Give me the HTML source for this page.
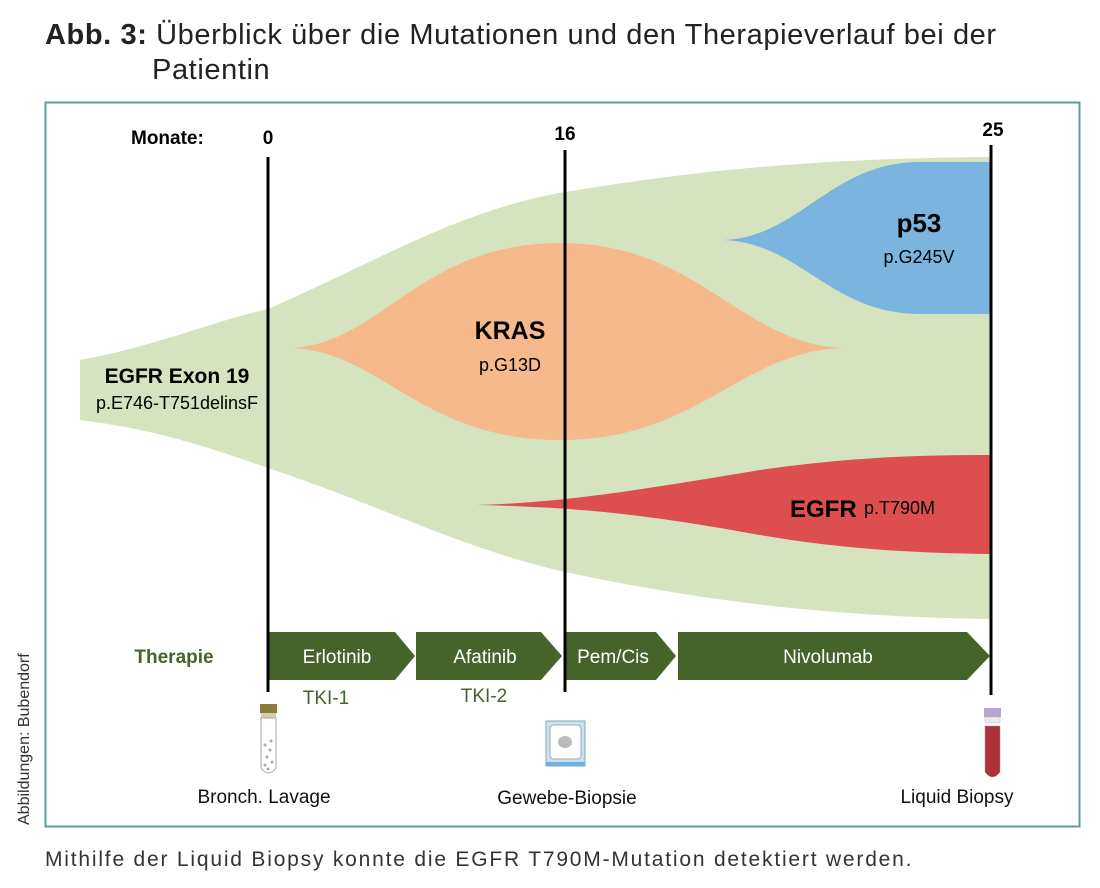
<!DOCTYPE html>
<html><head><meta charset="utf-8"><style>
body{margin:0;width:1100px;height:888px;background:#fff;overflow:hidden;font-family:"Liberation Sans",sans-serif}
</style></head><body>
<svg width="1100" height="888" xmlns="http://www.w3.org/2000/svg" style="position:absolute;left:0;top:0">
<text x="45" y="44" font-family="Liberation Sans, sans-serif" font-size="29" letter-spacing="0.6" fill="#222"><tspan font-weight="bold">Abb. 3:</tspan> Überblick über die Mutationen und den Therapieverlauf bei der</text>
<text x="152" y="79" font-family="Liberation Sans, sans-serif" font-size="29" letter-spacing="0.6" fill="#222">Patientin</text>
<rect x="45.5" y="102.5" width="1034" height="724" fill="none" stroke="#5a9e9a" stroke-width="2"/>
<text transform="translate(29,825) rotate(-90)" font-size="16" fill="#333">Abbildungen: Bubendorf</text>
<text x="45" y="866" font-size="21" letter-spacing="1.8" fill="#333">Mithilfe der Liquid Biopsy konnte die EGFR T790M-Mutation detektiert werden.</text>

<path d="M80,360 C160,345 210,322 268,309 C380,260 460,210 565,192 C720,166 850,158 990,157 L990,619 C850,617 720,605 565,572 C460,548 380,505 268,468 C210,448 160,430 80,420 Z" fill="#d5e4bf"/>
<path d="M290,348 C380,345 420,243 560,243 C700,243 740,345 845,348 C740,350 700,440 560,440 C420,440 380,350 290,348 Z" fill="#f5b98c"/>
<path d="M722,240 C800,238 830,162 920,162 L990,162 L990,314 L920,314 C830,314 800,242 722,240 Z" fill="#7cb4e0"/>
<path d="M476,505 C560,503 640,490 760,470 C850,457 920,455 990,455 L990,554 C900,553 830,547 760,535 C650,515 580,507 476,505 Z" fill="#dd4e4e"/>

<g font-family="Liberation Sans, sans-serif" fill="#000">
<text x="131" y="144" font-size="19" font-weight="bold">Monate:</text>
<text x="268" y="144" font-size="19" font-weight="bold" text-anchor="middle">0</text>
<text x="565" y="140" font-size="19" font-weight="bold" text-anchor="middle">16</text>
<text x="993" y="136" font-size="19" font-weight="bold" text-anchor="middle">25</text>
<text x="177" y="383" font-size="21" font-weight="bold" text-anchor="middle">EGFR Exon 19</text>
<text x="177" y="409" font-size="18" text-anchor="middle">p.E746-T751delinsF</text>
<text x="510" y="339" font-size="25" font-weight="bold" text-anchor="middle">KRAS</text>
<text x="510" y="371" font-size="18" text-anchor="middle">p.G13D</text>
<text x="919" y="232" font-size="26" font-weight="bold" text-anchor="middle">p53</text>
<text x="919" y="263" font-size="18" text-anchor="middle">p.G245V</text>
<text x="790" y="517" font-size="24" font-weight="bold">EGFR</text>
<text x="864" y="514" font-size="18">p.T790M</text>
</g>

<g fill="#46632a">
<polygon points="268,632 395,632 415,656 395,680 268,680"/>
<polygon points="416,632 541,632 562,656 541,680 416,680"/>
<polygon points="566,632 656,632 676,656 656,680 566,680"/>
<polygon points="678,632 967,632 990,656 967,680 678,680"/>
</g>
<g font-family="Liberation Sans, sans-serif" font-size="19" fill="#fff" text-anchor="middle">
<text x="337" y="663">Erlotinib</text>
<text x="485" y="663">Afatinib</text>
<text x="613" y="663">Pem/Cis</text>
<text x="828" y="663">Nivolumab</text>
</g>
<g font-family="Liberation Sans, sans-serif" font-size="19" fill="#46632a" text-anchor="middle">
<text x="174" y="663" font-weight="bold">Therapie</text>
<text x="326" y="704">TKI-1</text>
<text x="484" y="702">TKI-2</text>
</g>

<line x1="268" y1="157" x2="268" y2="692" stroke="#000" stroke-width="3"/>
<line x1="565" y1="150" x2="565" y2="692" stroke="#000" stroke-width="3"/>
<line x1="991" y1="145" x2="991" y2="695" stroke="#000" stroke-width="3"/>

<rect x="260" y="704" width="17" height="9" fill="#8a7a3c"/>
<rect x="261" y="713" width="15" height="5" fill="#d8cfa6"/>
<path d="M261,718 L276,718 L276,768 Q268.5,778 261,768 Z" fill="#fff" stroke="#aaa"/>
<g fill="#b8a6a6"><circle cx="265" cy="745" r="1.5"/><circle cx="270" cy="750" r="1.5"/><circle cx="267" cy="757" r="1.5"/><circle cx="272" cy="762" r="1.5"/><circle cx="265" cy="765" r="1.5"/><circle cx="271" cy="741" r="1.5"/><circle cx="268" cy="769" r="1.5"/></g>
<rect x="546" y="721" width="39" height="45" fill="#c9e1f3" stroke="#8aa" stroke-width="1"/>
<rect x="550" y="725" width="31" height="34" rx="4" fill="#fff" stroke="#9ab"/>
<rect x="546" y="762" width="39" height="4" fill="#6fb0e0"/>
<ellipse cx="565" cy="742" rx="7" ry="6" fill="#bbb"/>
<rect x="984" y="708" width="17" height="9" fill="#b9a3cf"/>
<rect x="985" y="717" width="15" height="6" fill="#efe6f0" stroke="#bbb" stroke-width="0.5"/>
<path d="M985,726 L1000,726 L1000,772 Q992.5,782 985,772 Z" fill="#b0303a" stroke="#999" stroke-width="0.5"/>

<g font-family="Liberation Sans, sans-serif" font-size="19" fill="#111" text-anchor="middle">
<text x="264" y="803">Bronch. Lavage</text>
<text x="567" y="804">Gewebe-Biopsie</text>
<text x="957" y="803">Liquid Biopsy</text>
</g>
</svg>
</body></html>
